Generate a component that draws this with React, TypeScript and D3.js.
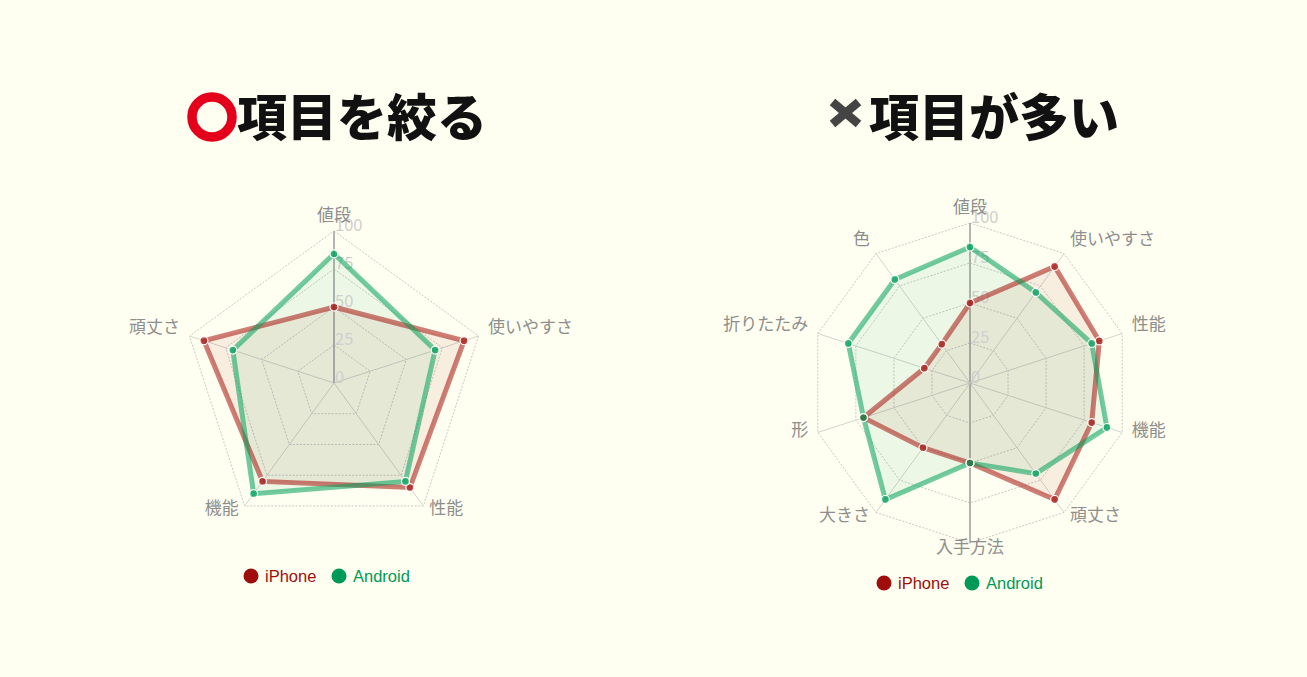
import * as d3 from "d3";

const leftLabels = ["値段", "使いやすさ", "性能", "機能", "頑丈さ"];
const leftIphone = [50, 90, 85, 80, 90];
const leftAndroid = [85, 70, 80, 90, 70];

const rightLabels = ["値段", "使いやすさ", "性能", "機能", "頑丈さ", "入手方法", "大きさ", "形", "折りたたみ", "色"];
const rightIphone = [50, 90, 85, 80, 90, 50, 50, 70, 30, 30];
const rightAndroid = [85, 70, 80, 90, 70, 50, 90, 70, 80, 80];

const ticks = [0, 25, 50, 75, 100];
const seriesNames = ["iPhone", "Android"];

const W = 1307, H = 677;
const BG = "#fefff0";
const JP = "'Noto Sans CJK JP', 'Noto Sans', sans-serif";

const colors = {
  iPhone: { line: "rgba(165,20,15,0.55)", fill: "rgba(165,20,15,0.07)", point: "rgba(165,20,15,0.62)", legend: "#a00d0d" },
  Android: { line: "rgba(0,160,90,0.55)", fill: "rgba(0,160,90,0.07)", point: "rgba(0,160,90,0.62)", legend: "#009a58" },
};

type RadarProps = {
  cx: number; cy: number; r: number;
  labels: string[];
  iphone: number[]; android: number[];
};

function Radar({ cx, cy, r, labels, iphone, android }: RadarProps) {
  const n = labels.length;
  const rScale = d3.scaleLinear().domain([0, 100]).range([0, r]);
  const angle = (i: number) => (i * 2 * Math.PI) / n;
  const poly = (vals: number[]) =>
    d3.lineRadial<number>().angle((_, i) => angle(i)).radius((d) => rScale(d)).curve(d3.curveLinearClosed)(vals) || "";
  const pt = (i: number, v: number) => [rScale(v) * Math.sin(angle(i)), -rScale(v) * Math.cos(angle(i))];

  const sets = [
    { name: "iPhone", vals: iphone },
    { name: "Android", vals: android },
  ];

  return (
    <g transform={`translate(${cx},${cy})`}>
      {/* grid rings */}
      {ticks.slice(1).map((t) => (
        <path key={t} d={poly(labels.map(() => t))} fill="none" stroke="#c9c9c9" strokeWidth={1} strokeDasharray="2,1.5" />
      ))}
      {/* spokes */}
      {labels.map((_, i) => {
        const [x, y] = pt(i, 100);
        const strong = i === 0 || Math.abs(angle(i) - Math.PI) < 1e-6;
        return <line key={i} x1={0} y1={0} x2={x} y2={y} stroke={strong ? "#b4b4b0" : "#d4d4d0"} strokeWidth={strong ? 2 : 1} />;
      })}
      {/* fills */}
      {sets.map((s) => (
        <path key={s.name + "f"} d={poly(s.vals)} fill={colors[s.name as "iPhone"].fill} stroke="none" />
      ))}
      {/* tick labels */}
      {ticks.map((t) => (
        <text key={t} x={1} y={-rScale(t)} fontSize={16.5} fill="#cfcfcf" fontFamily={JP}>{t}</text>
      ))}
      {/* lines */}
      {sets.map((s) => (
        <path key={s.name + "l"} d={poly(s.vals)} fill="none" stroke={colors[s.name as "iPhone"].line} strokeWidth={5} strokeLinejoin="miter" />
      ))}
      {/* points */}
      {sets.map((s) =>
        s.vals.map((v, i) => {
          const [x, y] = pt(i, v);
          return <circle key={s.name + i} cx={x} cy={y} r={4} fill={colors[s.name as "iPhone"].point} stroke="#ffffff" strokeWidth={1.2} />;
        })
      )}
      {/* point labels */}
      {labels.map((lab, i) => {
        const a = angle(i);
        const R = r + 10;
        const x = R * Math.sin(a);
        const y = -R * Math.cos(a);
        const s = Math.sin(a);
        const anchor = s > 0.05 ? "start" : s < -0.05 ? "end" : "middle";
        return (
          <text key={lab} x={x} y={y} textAnchor={anchor} fontSize={17} fill="#8e8e8e" fontFamily={JP}>{lab}</text>
        );
      })}
    </g>
  );
}

function Legend({ x, y }: { x: number; y: number }) {
  const offsets = [0, 88];
  return (
    <g transform={`translate(${x},${y})`}>
      {seriesNames.map((name, i) => (
        <g key={name} transform={`translate(${offsets[i]},0)`}>
          <circle cx={0} cy={0} r={7.5} fill={colors[name as "iPhone"].legend} />
          <text x={14} y={6} fontSize={16.5} fill={colors[name as "iPhone"].legend} fontFamily="'Liberation Sans', Arial, sans-serif">{name}</text>
        </g>
      ))}
    </g>
  );
}

export default function App() {
  return (
    <svg width={W} height={H} style={{ position: "absolute", left: 0, top: 0, background: BG }}>
      <rect width={W} height={H} fill={BG} />
      {/* left title */}
      <circle cx={212} cy={117} r={20} fill="none" stroke="#e4001b" strokeWidth={9.5} />
      <text x={237} y={136} fontSize={50} fontWeight={900} fill="#111" fontFamily={JP}>項目を絞る</text>
      {/* right title */}
      <g transform="translate(845.5,113)" stroke="#444" strokeWidth={8.5}>
        <line x1={-13} y1={-11} x2={13} y2={11} />
        <line x1={-13} y1={11} x2={13} y2={-11} />
      </g>
      <text x={869} y={136} fontSize={50} fontWeight={900} fill="#111" fontFamily={JP}>項目が多い</text>

      <Radar cx={334} cy={383} r={152} labels={leftLabels} iphone={leftIphone} android={leftAndroid} />
      <Radar cx={970} cy={383} r={160} labels={rightLabels} iphone={rightIphone} android={rightAndroid} />

      <Legend x={251} y={576} />
      <Legend x={884} y={583} />
    </svg>
  );
}
